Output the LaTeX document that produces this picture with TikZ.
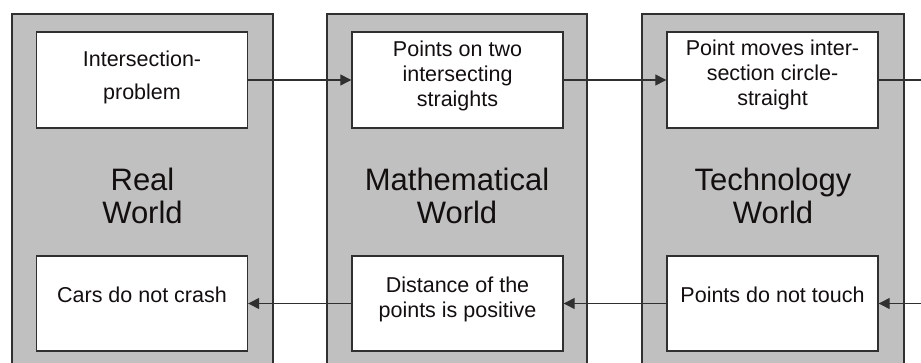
\documentclass[tikz,border=0pt]{standalone}
\usepackage{fontspec}
\setmainfont{Liberation Sans}
\usetikzlibrary{arrows.meta}
\definecolor{colfill}{HTML}{C0C0C0}
\definecolor{edge}{HTML}{303030}
\definecolor{ink}{HTML}{140F0F}
\tikzset{
  column/.style={draw=edge, line width=1.4pt, fill=colfill},
  inbox/.style={draw=edge, line width=1.4pt, fill=white, rectangle, inner sep=0pt, minimum width=211pt},
  topbox/.style={inbox, minimum height=96pt},
  botbox/.style={inbox, minimum height=95pt},
  txt/.style={anchor=base, inner sep=0pt, text=ink, font=\fontsize{21.5pt}{25pt}\selectfont},
  big/.style={anchor=base, inner sep=0pt, text=ink, font=\fontsize{31pt}{33pt}\selectfont},
  conn/.style={draw=edge, line width=1.3pt, -{Triangle[length=11pt,width=11pt]}},
  plain/.style={draw=edge, line width=1.3pt}
}
\begin{document}
\begin{tikzpicture}[x=1pt,y=-1pt]
\clip (0,0) rectangle (921,363);
\fill[white] (0,0) rectangle (921,363);
% columns
\path[column] (12,14) rectangle (273,380);
\path[column] (327,14) rectangle (587,380);
\path[column] (642,14) rectangle (904,380);
% boxes
\node[topbox] (rt) at (142,80) {};
\node[topbox] (mt) at (457.5,80) {};
\node[topbox] (tt) at (772.5,80) {};
\node[botbox] (rb) at (142,303.5) {};
\node[botbox] (mb) at (457.5,303.5) {};
\node[botbox] (tb) at (772.5,303.5) {};
% box texts
\node[txt] (rt1) at (142,67) {Intersection-};
\node[txt] (rt2) at (142,100) {problem};
\node[txt] (mt1) at (457.5,57) {Points on two};
\node[txt] (mt2) at (457.5,82) {intersecting};
\node[txt] (mt3) at (457.5,107) {straights};
\node[txt] (tt1) at (772.5,56) {Point moves inter-};
\node[txt] (tt2) at (772.5,81) {section circle-};
\node[txt] (tt3) at (772.5,106) {straight};
\node[txt] (rb1) at (142,303) {Cars do not crash};
\node[txt] (mb1) at (457.5,293) {Distance of the};
\node[txt] (mb2) at (457.5,318) {points is positive};
\node[txt] (tb1) at (772.5,303) {Points do not touch};
% column labels
\node[big] (r1) at (142.5,191) {Real};
\node[big] (r2) at (142.5,224) {World};
\node[big] (m1) at (457,191) {Mathematical};
\node[big] (m2) at (457,224) {World};
\node[big] (t1) at (773,191) {Technology};
\node[big] (t2) at (773,224) {World};
% connectors
\coordinate (outR) at (921,80);
\coordinate (inR) at (921,303.5);
\draw[conn] (rt.east) -- (mt.west);
\draw[conn] (mt.east) -- (tt.west);
\draw[plain] (tt.east) -- (outR);
\draw[conn] (inR) -- (tb.east);
\draw[conn] (tb.west) -- (mb.east);
\draw[conn] (mb.west) -- (rb.east);
\end{tikzpicture}
\end{document}
